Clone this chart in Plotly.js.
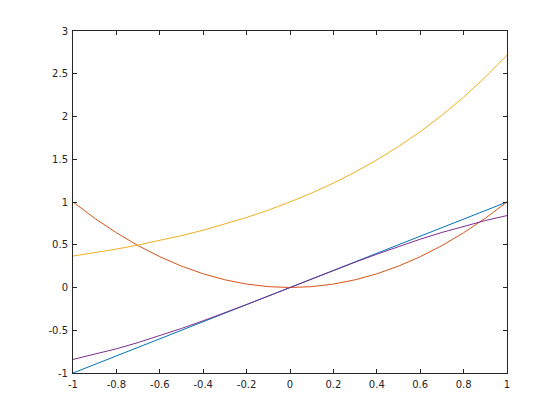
<!DOCTYPE html>
<html>
<head>
<meta charset="utf-8">
<script src="https://cdn.plot.ly/plotly-3.0.1.min.js"></script>
<style>html,body{margin:0;padding:0;background:#fff;}#chart{width:560px;height:420px;}</style>
</head>
<body>
<div id="chart"></div>
<script>
const xValues = [-1, -0.9, -0.8, -0.7, -0.6, -0.5, -0.4, -0.3, -0.2, -0.1, 0, 0.1, 0.2, 0.3, 0.4, 0.5, 0.6, 0.7, 0.8, 0.9, 1];
const seriesLinear = [-1, -0.9, -0.8, -0.7, -0.6, -0.5, -0.4, -0.3, -0.2, -0.1, 0, 0.1, 0.2, 0.3, 0.4, 0.5, 0.6, 0.7, 0.8, 0.9, 1];
const seriesSquare = [1, 0.81, 0.64, 0.49, 0.36, 0.25, 0.16, 0.09, 0.04, 0.01, 0, 0.01, 0.04, 0.09, 0.16, 0.25, 0.36, 0.49, 0.64, 0.81, 1];
const seriesExp = [0.368, 0.407, 0.449, 0.497, 0.549, 0.607, 0.670, 0.741, 0.819, 0.905, 1, 1.105, 1.221, 1.350, 1.492, 1.649, 1.822, 2.014, 2.226, 2.460, 2.718];
const seriesSin = [-0.841, -0.783, -0.717, -0.644, -0.565, -0.479, -0.389, -0.296, -0.199, -0.100, 0, 0.100, 0.199, 0.296, 0.389, 0.479, 0.565, 0.644, 0.717, 0.783, 0.841];
const xTicks = [-1, -0.8, -0.6, -0.4, -0.2, 0, 0.2, 0.4, 0.6, 0.8, 1];
const xTickText = ['-1', '-0.8', '-0.6', '-0.4', '-0.2', '0', '0.2', '0.4', '0.6', '0.8', '1'];
const yTicks = [-1, -0.5, 0, 0.5, 1, 1.5, 2, 2.5, 3];
const yTickText = ['-1', '-0.5', '0', '0.5', '1', '1.5', '2', '2.5', '3'];

const colors = ['#0072BD', '#D95319', '#EDB120', '#7E2F8E'];
const series = [seriesLinear, seriesSquare, seriesExp, seriesSin];
const traces = series.map((s, i) => ({
  x: xValues, y: s, type: 'scatter', mode: 'lines',
  line: {color: colors[i], width: 1}, hoverinfo: 'none', showlegend: false
}));

const axisCommon = {
  showgrid: false, zeroline: false, showline: true, linecolor: '#262626', linewidth: 1,
  mirror: 'ticks', ticks: 'inside', ticklen: 4, tickcolor: '#262626', tickwidth: 1,
  tickfont: {family: 'DejaVu Sans, sans-serif', size: 10, color: '#262626'}
};

const layout = {
  width: 560, height: 420,
  margin: {l: 73, r: 53, t: 31, b: 47},
  paper_bgcolor: '#ffffff', plot_bgcolor: '#ffffff',
  xaxis: Object.assign({}, axisCommon, {range: [-1, 1], tickvals: xTicks, ticktext: xTickText, ticklabelstandoff: 2}),
  yaxis: Object.assign({}, axisCommon, {range: [-1, 3], tickvals: yTicks, ticktext: yTickText, ticklabelstandoff: 2})
};

Plotly.newPlot('chart', traces, layout, {staticPlot: true, displayModeBar: false});
</script>
</body>
</html>
